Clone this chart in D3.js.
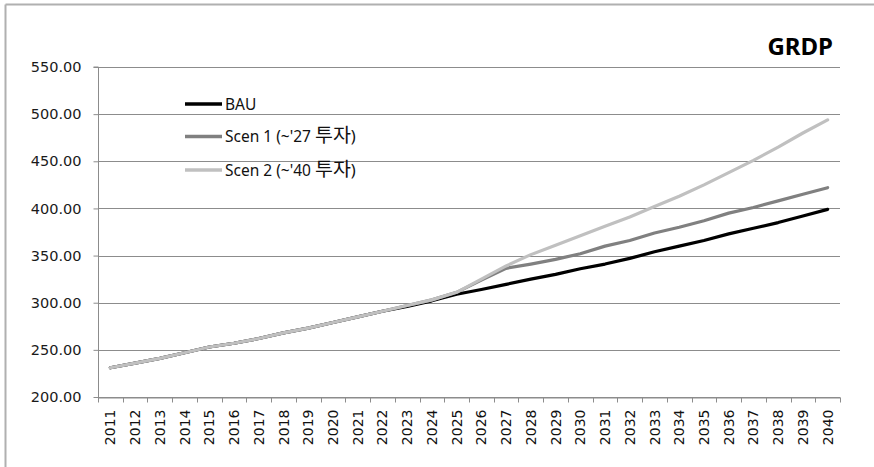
<!DOCTYPE html>
<html>
<head>
<meta charset="utf-8">
<script src="https://cdn.jsdelivr.net/npm/d3@7"></script>
<style>
html,body{margin:0;padding:0;background:#fff;}
svg{display:block;}
</style>
</head>
<body>
<svg id="chart" width="874" height="467"></svg>
<script>
const years = d3.range(2011, 2041).map(String);
const bau   = [231,236,241,247,253,257,262,268,273,279,285,291,296,302,309,314,319.5,325,330,336,341,347,354,360,366,373,379,385,392,399];
const scen1 = [231,236,241,247,253,257,262,268,273,279,285,291,297,303,311,324,336.5,341,346,352,360,366,374,380,387,395,401,408,415,422];
const scen2 = [231,236,241,247,253,257,262,268,273,279,285,291,297,303,311,325,339,351,361,371,381,391,402,413,425,438,451,465,480,494];
const yTicks = [200,250,300,350,400,450,500,550];
const seriesNames = ["BAU","Scen 1 (~'27 투자)","Scen 2 (~'40 투자)"];
const seriesColors = ["#000000","#808080","#c0c0c0"];
const seriesData = [bau, scen1, scen2];
const title = "GRDP";

const svg = d3.select("#chart");
const L = 98, R = 840, T = 67, B = 397;

// outer frame
svg.append("line").attr("x1",5.5).attr("x2",874).attr("y1",4.5).attr("y2",4.5).attr("stroke","#b0b0b0").attr("stroke-width",2);
svg.append("line").attr("x1",5.5).attr("x2",5.5).attr("y1",4.5).attr("y2",467).attr("stroke","#b0b0b0").attr("stroke-width",2);

const x = d3.scaleBand().domain(years).range([L, R]).paddingInner(0).paddingOuter(0);
const y = d3.scaleLinear().domain([200, 550]).range([B, T]);

// gridlines
svg.append("g").selectAll("line").data(yTicks).join("line")
  .attr("x1", L).attr("x2", R)
  .attr("y1", d => Math.round(y(d)) + 0.5).attr("y2", d => Math.round(y(d)) + 0.5)
  .attr("stroke", "#8c8c8c").attr("stroke-width", 1);

// y axis
const yAxis = svg.append("g").attr("transform", `translate(${L + 0.5},0)`)
  .call(d3.axisLeft(y).tickValues(yTicks).tickFormat(d3.format(".2f")).tickSize(5).tickPadding(12));
yAxis.select(".domain").attr("stroke", "#8c8c8c").attr("d", `M-5,${y(550)}H0V${y(200)}`);
yAxis.selectAll(".tick line").attr("stroke", "#8c8c8c");
yAxis.selectAll("text").attr("font-family", "'DejaVu Sans', sans-serif").attr("font-size", 14.5).attr("fill", "#1a1a1a");

// x axis
const xAxis = svg.append("g").attr("transform", `translate(0,${Math.round(B) + 0.5})`)
  .call(d3.axisBottom(x).tickSize(0).tickPadding(0));
xAxis.select(".domain").attr("stroke", "#8c8c8c");
xAxis.selectAll("text")
  .attr("font-family", "'DejaVu Sans', sans-serif").attr("font-size", 14).attr("fill", "#111")
  .attr("text-anchor", "end")
  .attr("transform", "rotate(-90)")
  .attr("x", -12).attr("y", 0).attr("dy", "0.36em");
const bounds = years.map(d => x(d)).concat([x(years[years.length-1]) + x.bandwidth()]);
xAxis.append("g").selectAll("line").data(bounds).join("line")
  .attr("x1", d => Math.round(d) + 0.5).attr("x2", d => Math.round(d) + 0.5)
  .attr("y1", 0).attr("y2", 5).attr("stroke", "#8c8c8c");

// lines: BAU first, Scen 2 on top
const line = d3.line().x((d, i) => x(years[i]) + x.bandwidth() / 2).y(d => y(d));
[0, 1, 2].forEach(k => {
  svg.append("path").datum(seriesData[k]).attr("d", line)
    .attr("fill", "none").attr("stroke", seriesColors[k]).attr("stroke-width", 3.2)
    .attr("stroke-linejoin", "round").attr("stroke-linecap", "round");
});

// legend
const legY = [104, 136.5, 170];
seriesNames.forEach((n, k) => {
  svg.append("line").attr("x1", 185).attr("x2", 222).attr("y1", legY[k]).attr("y2", legY[k])
    .attr("stroke", seriesColors[k]).attr("stroke-width", 3.5);
  const t = svg.append("text").attr("x", 225).attr("y", legY[k]).attr("dy", "0.36em")
    .attr("font-family", "'Noto Sans', sans-serif").attr("font-size", 15.5).attr("fill", "#111");
  if (k === 0) { t.text(n); }
  else {
    const m = n.match(/^(.*?)([가-힣]+)(\))$/);
    t.append("tspan").text(m[1]);
    t.append("tspan").attr("font-family", "'Noto Sans CJK KR', sans-serif").attr("font-size", 19.5).text(m[2]);
    t.append("tspan").attr("font-size", 16.5).text(m[3]);
  }
});

// title
svg.append("text").attr("x", 833).attr("y", 55).attr("text-anchor", "end")
  .attr("font-family", "'Noto Sans', sans-serif").attr("font-weight", "bold").attr("font-size", 24)
  .attr("fill", "#000").text(title);
</script>
</body>
</html>
